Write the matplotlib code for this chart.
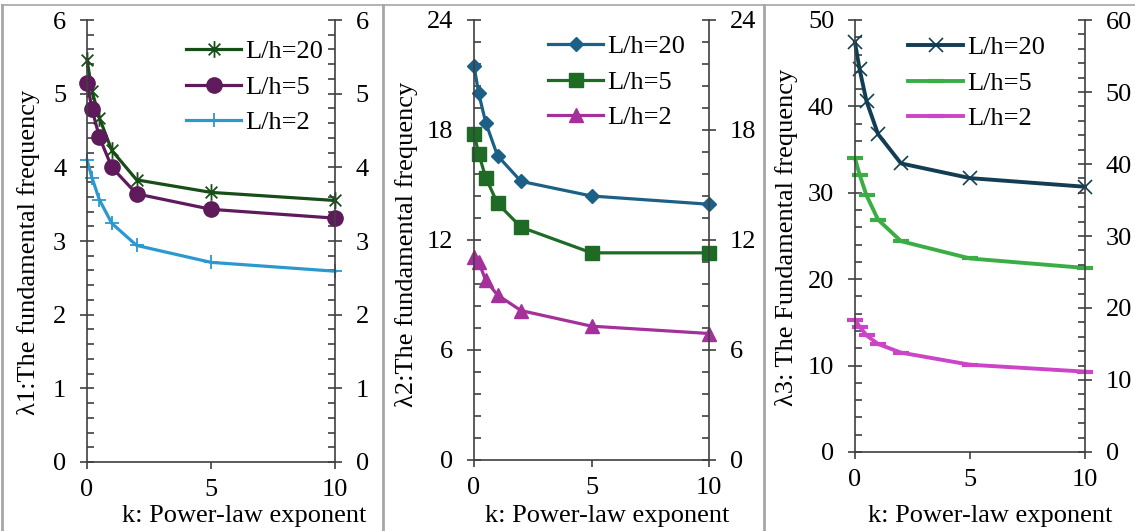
import matplotlib
matplotlib.use("Agg")
import matplotlib.pyplot as plt
from matplotlib.lines import Line2D
from matplotlib.path import Path
from matplotlib.ticker import MultipleLocator

plt.rcParams['font.family'] = ['Liberation Serif', 'DejaVu Serif']
plt.rcParams['font.size'] = 19

k = [0, 0.2, 0.5, 1, 2, 5, 10]
labels = ["L/h=20", "L/h=5", "L/h=2"]

# lambda 1
lam1_20 = [5.46, 5.04, 4.67, 4.23, 3.83, 3.66, 3.55]
lam1_5 = [5.15, 4.79, 4.41, 4.00, 3.64, 3.43, 3.31]
lam1_2 = [4.10, 3.86, 3.56, 3.24, 2.94, 2.71, 2.59]

# lambda 2
lam2_20 = [21.5, 20.0, 18.4, 16.6, 15.2, 14.4, 13.95]
lam2_5 = [17.8, 16.7, 15.4, 14.0, 12.7, 11.3, 11.3]
lam2_2 = [11.1, 10.8, 9.8, 9.0, 8.15, 7.3, 6.9]

# lambda 3
lam3_20 = [47.4, 44.3, 40.6, 36.8, 33.4, 31.7, 30.7]
lam3_5 = [34.0, 32.1, 29.7, 26.9, 24.4, 22.4, 21.3]
lam3_2 = [15.3, 14.5, 13.5, 12.5, 11.5, 10.1, 9.3]

W, H = 1135, 531
fig = plt.figure(figsize=(W / 100, H / 100), dpi=100)

# excel style star: x plus a vertical bar
star = Path([(-0.7, -0.7), (0.7, 0.7), (-0.7, 0.7), (0.7, -0.7), (0, -1), (0, 1)],
            [Path.MOVETO, Path.LINETO, Path.MOVETO, Path.LINETO, Path.MOVETO, Path.LINETO])


def rect(x0, x1, y0, y1):
    return [x0 / W, 1 - y1 / H, (x1 - x0) / W, (y1 - y0) / H]


axcol = '#404040'


def style(ax, ymax, major, minor, right=True):
    ax.set_xlim(0, 10)
    ax.set_ylim(0, ymax)
    ax.yaxis.set_major_locator(MultipleLocator(major))
    ax.yaxis.set_minor_locator(MultipleLocator(minor))
    ax.set_xticks([0, 5, 10])
    ax.spines['top'].set_visible(False)
    for s in ax.spines.values():
        s.set_color(axcol)
        s.set_linewidth(1.2)
    ax.spines['right'].set_visible(right)
    ax.tick_params(axis='y', which='major', direction='inout', length=10, width=1.2,
                   color=axcol, pad=10, left=True, right=right, labelright=right)
    ax.tick_params(axis='y', which='minor', direction='in', length=5, width=1.2,
                   color=axcol, left=True, right=right)
    ax.tick_params(axis='x', which='major', direction='out', length=5, width=1.2,
                   color=axcol, pad=7)


def legend(ax, x, y):
    ax.legend(loc='upper left', bbox_to_anchor=(x / W, 1 - y / H),
              bbox_transform=fig.transFigure, frameon=False, borderpad=0,
              borderaxespad=0, handlelength=2.1, handletextpad=0.15,
              labelspacing=0.45, fontsize=19)


# panel 1
ax1 = fig.add_axes(rect(87, 335, 20, 462))
ax1.plot(k, lam1_20, color='#174d17', lw=2.3, marker=star, ms=12, mew=1.3,
         label=labels[0], clip_on=False)
ax1.plot(k, lam1_5, color='#5e1a5a', lw=2.3, marker='o', ms=11,
         label=labels[1], clip_on=False)
ax1.plot(k, lam1_2, color='#2b98cf', lw=2.3, marker='+', ms=10, mew=1.3,
         label=labels[2], clip_on=False)
style(ax1, 6, 1, 0.2)
legend(ax1, 186, 40)

# panel 2
ax2 = fig.add_axes(rect(474, 709, 20, 460))
ax2.plot(k, lam2_20, color='#1c5f87', lw=2.3, marker='D', ms=7.5,
         label=labels[0], clip_on=False)
ax2.plot(k, lam2_5, color='#1d6b25', lw=2.3, marker='s', ms=10,
         label=labels[1], clip_on=False)
ax2.plot(k, lam2_2, color='#a3309b', lw=2.3, marker='^', ms=10,
         label=labels[2], clip_on=False)
style(ax2, 24, 6, 1.2)
legend(ax2, 548, 35)

# panel 3
ax3 = fig.add_axes(rect(855, 1085, 20, 452))
ax3.plot(k, lam3_20, color='#123d52', lw=2.8, marker='x', ms=10, mew=1.2,
         label=labels[0], clip_on=False)
ax3.plot(k, lam3_5, color='#3aae44', lw=2.8, marker='_', ms=11, mew=3,
         label=labels[1], clip_on=False)
ax3.plot(k, lam3_2, color='#cc44c8', lw=2.8, marker='_', ms=11, mew=3,
         label=labels[2], clip_on=False)
style(ax3, 50, 10, 2, right=False)
ax3b = ax3.twinx()
ax3b.set_ylim(0, 60)
ax3b.yaxis.set_major_locator(MultipleLocator(10))
ax3b.yaxis.set_minor_locator(MultipleLocator(2))
for s in ['top', 'left', 'bottom']:
    ax3b.spines[s].set_visible(False)
ax3b.spines['right'].set_color(axcol)
ax3b.spines['right'].set_linewidth(1.2)
ax3b.tick_params(axis='y', which='major', direction='inout', length=10, width=1.2,
                 color=axcol, pad=10)
ax3b.tick_params(axis='y', which='minor', direction='in', length=5, width=1.2,
                 color=axcol)
legend(ax3, 908, 36)

# axis titles
fig.text(29 / W, 1 - 252 / H, "λ1:The fundamental frequency", rotation=90,
         ha='center', va='center', fontsize=19)
fig.text(407 / W, 1 - 244 / H, "λ2:The fundamental frequency", rotation=90,
         ha='center', va='center', fontsize=19)
fig.text(787 / W, 1 - 237 / H, "λ3: The Fundamental frequency", rotation=90,
         ha='center', va='center', fontsize=19)
for xc in [244, 607, 990]:
    fig.text(xc / W, 1 - 516 / H, "k: Power-law exponent", ha='center',
             va='center', fontsize=19)

# panel frames
frame = '#a6a6a6'
fig.add_artist(Line2D([2 / W, 1], [1 - 5 / H, 1 - 5 / H], color=frame, lw=1.2))
for xv in [2, 383, 764]:
    fig.add_artist(Line2D([xv / W, xv / W], [0, 1 - 5 / H], color=frame, lw=2))

fig.savefig("out.png", dpi=100)
